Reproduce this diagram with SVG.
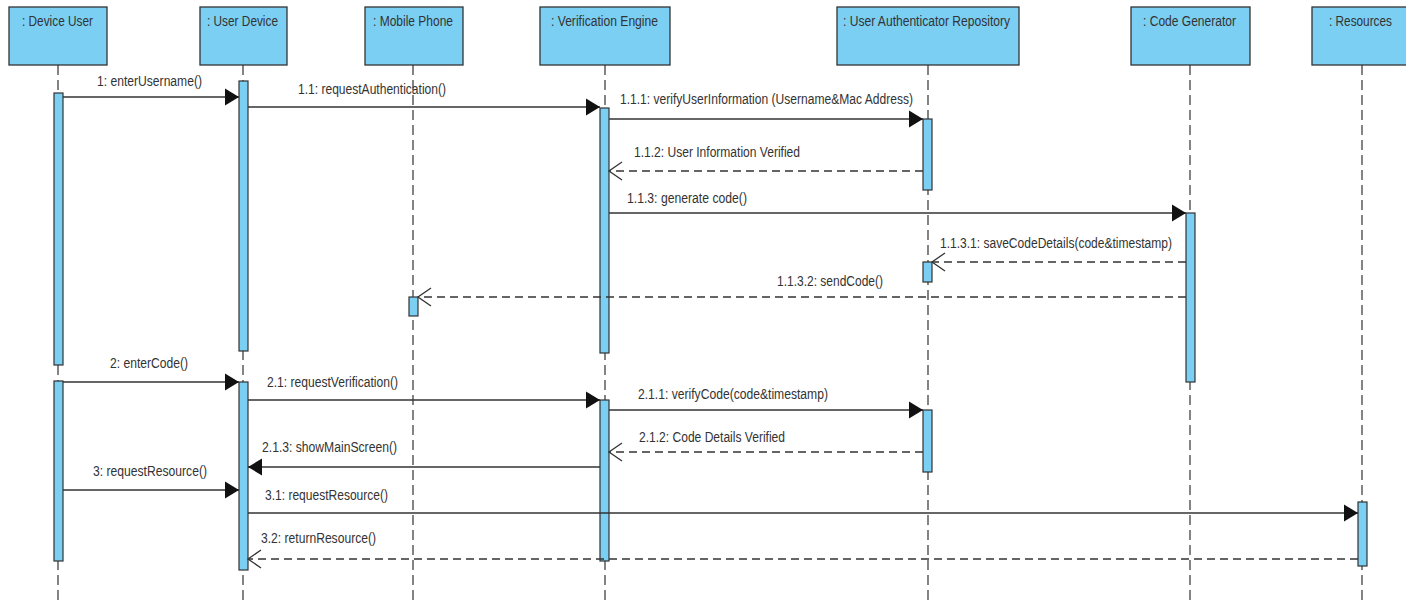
<svg xmlns="http://www.w3.org/2000/svg" width="1406" height="601" viewBox="0 0 1406 601">
  <style>
    .head { fill: #7acff3; stroke: #333; stroke-width: 1.3; }
    .act { fill: #7acff3; stroke: #333; stroke-width: 1.2; }
    .life { stroke: #333; stroke-width: 1.2; stroke-dasharray: 10 5; fill: none; }
    .call { stroke: #333; stroke-width: 1.3; fill: none; marker-end: url(#solid); }
    .ret { stroke: #333; stroke-width: 1.3; fill: none; stroke-dasharray: 8 5; marker-end: url(#open); }
    text { font-family: "Liberation Sans", Arial, sans-serif; font-size: 14px; fill: #333; }
  </style>
  <defs>
    <marker id="solid" markerUnits="userSpaceOnUse" markerWidth="16" markerHeight="20" refX="15" refY="10" orient="auto">
      <path d="M1,1.5 L15,10 L1,18.5 Z" fill="#111"/>
    </marker>
    <marker id="open" markerUnits="userSpaceOnUse" markerWidth="16" markerHeight="22" refX="14" refY="11" orient="auto">
      <path d="M1,2 L14,11 L1,20" fill="none" stroke="#333" stroke-width="1.3"/>
    </marker>
  </defs>
  <rect width="1406" height="601" fill="#fff"/>

  <!-- lifelines: head, dashed line, activation bars -->
  <g id="device-user">
    <line class="life" x1="58" y1="65" x2="58" y2="601"/>
    <rect class="head" x="9" y="7" width="98" height="58"/>
    <text x="22" y="26" textLength="71" lengthAdjust="spacingAndGlyphs">: Device User</text>
    <rect class="act" x="54" y="93" width="9" height="272"/>
    <rect class="act" x="54" y="381" width="9" height="180"/>
  </g>
  <g id="user-device">
    <line class="life" x1="243" y1="65" x2="243" y2="601"/>
    <rect class="head" x="200" y="7" width="87" height="58"/>
    <text x="207" y="26" textLength="71" lengthAdjust="spacingAndGlyphs">: User Device</text>
    <rect class="act" x="239" y="81" width="9" height="270"/>
    <rect class="act" x="239" y="382" width="9" height="188"/>
  </g>
  <g id="mobile-phone">
    <line class="life" x1="413" y1="65" x2="413" y2="601"/>
    <rect class="head" x="365" y="7" width="98" height="58"/>
    <text x="373" y="26" textLength="80" lengthAdjust="spacingAndGlyphs">: Mobile Phone</text>
    <rect class="act" x="409" y="297" width="9" height="19"/>
  </g>
  <g id="verification-engine">
    <line class="life" x1="605" y1="65" x2="605" y2="601"/>
    <rect class="head" x="540" y="7" width="130" height="58"/>
    <text x="551" y="26" textLength="107" lengthAdjust="spacingAndGlyphs">: Verification Engine</text>
    <rect class="act" x="600" y="108" width="9" height="245"/>
    <rect class="act" x="600" y="400" width="9" height="161"/>
  </g>
  <g id="user-authenticator-repository">
    <line class="life" x1="928" y1="65" x2="928" y2="601"/>
    <rect class="head" x="837" y="7" width="182" height="58"/>
    <text x="843" y="26" textLength="167" lengthAdjust="spacingAndGlyphs">: User Authenticator Repository</text>
    <rect class="act" x="923" y="119" width="9" height="71"/>
    <rect class="act" x="923" y="262" width="9" height="20"/>
    <rect class="act" x="923" y="410" width="9" height="62"/>
  </g>
  <g id="code-generator">
    <line class="life" x1="1190" y1="65" x2="1190" y2="601"/>
    <rect class="head" x="1131" y="7" width="119" height="58"/>
    <text x="1143" y="26" textLength="93" lengthAdjust="spacingAndGlyphs">: Code Generator</text>
    <rect class="act" x="1186" y="213" width="9" height="169"/>
  </g>
  <g id="resources">
    <line class="life" x1="1362" y1="65" x2="1362" y2="601"/>
    <rect class="head" x="1312" y="7" width="95" height="58"/>
    <text x="1329" y="26" textLength="63" lengthAdjust="spacingAndGlyphs">: Resources</text>
    <rect class="act" x="1358" y="502" width="9" height="64"/>
  </g>

  <!-- messages -->
  <g id="messages">
    <line class="call" x1="63" y1="97" x2="239" y2="97"/>
    <text x="97" y="86" textLength="105" lengthAdjust="spacingAndGlyphs">1: enterUsername()</text>

    <line class="call" x1="248" y1="107" x2="600" y2="107"/>
    <text x="298" y="94" textLength="148" lengthAdjust="spacingAndGlyphs">1.1: requestAuthentication()</text>

    <line class="call" x1="609" y1="119" x2="923" y2="119"/>
    <text x="620" y="104" textLength="293" lengthAdjust="spacingAndGlyphs">1.1.1: verifyUserInformation (Username&amp;Mac Address)</text>

    <line class="ret" x1="923" y1="171" x2="609" y2="171"/>
    <text x="634" y="157" textLength="166" lengthAdjust="spacingAndGlyphs">1.1.2: User Information Verified</text>

    <line class="call" x1="609" y1="213" x2="1186" y2="213"/>
    <text x="627" y="203" textLength="120" lengthAdjust="spacingAndGlyphs">1.1.3: generate code()</text>

    <line class="ret" x1="1186" y1="262" x2="932" y2="262"/>
    <text x="940" y="248" textLength="232" lengthAdjust="spacingAndGlyphs">1.1.3.1: saveCodeDetails(code&amp;timestamp)</text>

    <line class="ret" x1="1186" y1="297" x2="418" y2="297"/>
    <text x="777" y="286" textLength="106" lengthAdjust="spacingAndGlyphs">1.1.3.2: sendCode()</text>

    <line class="call" x1="63" y1="382" x2="239" y2="382"/>
    <text x="110" y="368" textLength="78" lengthAdjust="spacingAndGlyphs">2: enterCode()</text>

    <line class="call" x1="248" y1="400" x2="600" y2="400"/>
    <text x="267" y="387" textLength="131" lengthAdjust="spacingAndGlyphs">2.1: requestVerification()</text>

    <line class="call" x1="609" y1="410" x2="923" y2="410"/>
    <text x="638" y="399" textLength="190" lengthAdjust="spacingAndGlyphs">2.1.1: verifyCode(code&amp;timestamp)</text>

    <line class="ret" x1="923" y1="452" x2="609" y2="452"/>
    <text x="639" y="442" textLength="146" lengthAdjust="spacingAndGlyphs">2.1.2: Code Details Verified</text>

    <line class="call" x1="600" y1="467" x2="248" y2="467"/>
    <text x="262" y="452" textLength="135" lengthAdjust="spacingAndGlyphs">2.1.3: showMainScreen()</text>

    <line class="call" x1="63" y1="490" x2="239" y2="490"/>
    <text x="93" y="476" textLength="114" lengthAdjust="spacingAndGlyphs">3: requestResource()</text>

    <line class="call" x1="248" y1="513" x2="1358" y2="513"/>
    <text x="265" y="500" textLength="123" lengthAdjust="spacingAndGlyphs">3.1: requestResource()</text>

    <line class="ret" x1="1358" y1="559" x2="248" y2="559"/>
    <text x="261" y="543" textLength="115" lengthAdjust="spacingAndGlyphs">3.2: returnResource()</text>
  </g>
</svg>
